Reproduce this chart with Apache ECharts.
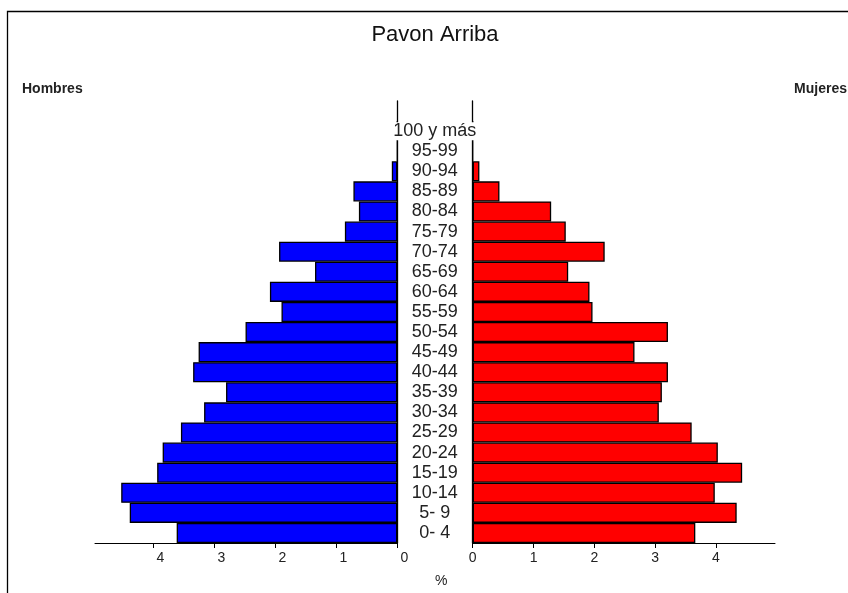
<!DOCTYPE html>
<html>
<head>
<meta charset="utf-8">
<script src="https://cdn.jsdelivr.net/npm/echarts@6/dist/echarts.min.js"></script>
<style>html,body{margin:0;padding:0;background:#fff;}#c{width:848px;height:593px;}</style>
</head>
<body>
<div id="c"></div>
<script>
const categories = ["0- 4","5- 9","10-14","15-19","20-24","25-29","30-34","35-39","40-44","45-49","50-54","55-59","60-64","65-69","70-74","75-79","80-84","85-89","90-94","95-99","100 y más"];
const hombres = [3.62,4.39,4.53,3.94,3.85,3.55,3.17,2.81,3.35,3.26,2.49,1.90,2.09,1.35,1.94,0.86,0.63,0.72,0.09,0,0];
const mujeres = [3.66,4.34,3.98,4.43,4.03,3.60,3.06,3.11,3.21,2.66,3.21,1.97,1.92,1.57,2.17,1.53,1.29,0.44,0.11,0,0];
const tickValues = [0,1,2,3,4];
const title = "Pavon Arriba";

const cats = categories.concat([""]);
const font = "Liberation Sans, Arial, sans-serif";
const chart = echarts.init(document.getElementById('c'), null, {renderer:'canvas'});
const axisX = (gi, inverse, max, labelPad) => ({
  type:'value', gridIndex:gi, inverse:inverse, min:0, max:max, interval:1, position:'bottom',
  axisLine:{show:true, onZero:false, lineStyle:{color:'#000', width:1}},
  axisTick:{show:true, length:5, customValues:tickValues, lineStyle:{color:'#000'}},
  axisLabel:{customValues:tickValues, margin:8, fontSize:14, color:'#222', fontFamily:font, padding:labelPad},
  splitLine:{show:false}
});
chart.setOption({
  animation:false,
  title:{text:title, left:430, textAlign:'center', top:19, textStyle:{fontSize:22, fontWeight:'normal', color:'#111', fontFamily:font}},
  graphic:[
    {type:'rect', shape:{x:7.5, y:11.5, width:1000, height:1000}, style:{fill:'none', stroke:'#000', lineWidth:1.3}, silent:true},
    {type:'text', left:22, top:82, style:{text:'Hombres', fontSize:14, fontWeight:'bold', fill:'#222', fontFamily:font}},
    {type:'text', right:1, top:82, style:{text:'Mujeres', fontSize:14, fontWeight:'bold', fill:'#222', fontFamily:font}},
    {type:'text', left:435, top:574, style:{text:'%', fontSize:14, fill:'#222', fontFamily:font}}
  ],
  grid:[
    {left:95, right:848-397.3, top:101, bottom:50},
    {left:472.7, right:73, top:101, bottom:50}
  ],
  xAxis:[axisX(0,true,4.96,[0,0,0,14]), axisX(1,false,4.97,0)],
  yAxis:[
    {type:'category', gridIndex:0, data:cats, position:'right', axisLine:{show:true, onZero:false, lineStyle:{color:'#000', width:1.3}}, axisTick:{show:false}, axisLabel:{show:false}, z:1},
    {type:'category', gridIndex:1, data:cats, position:'left', axisLine:{show:true, onZero:false, lineStyle:{color:'#000', width:1.3}}, axisTick:{show:false}, z:5,
     axisLabel:{show:true, interval:0, align:'center', margin:38, fontSize:18, color:'#222', fontFamily:font, backgroundColor:'#fff', padding:[0,2]}}
  ],
  series:[
    {type:'bar', xAxisIndex:0, yAxisIndex:0, data:hombres, barWidth:'100%', barCategoryGap:'0%', itemStyle:{color:'#0000ff', borderColor:'#000', borderWidth:1.3}},
    {type:'bar', xAxisIndex:1, yAxisIndex:1, data:mujeres, barWidth:'100%', barCategoryGap:'0%', itemStyle:{color:'#ff0000', borderColor:'#000', borderWidth:1.3}}
  ]
});
</script>
</body>
</html>
